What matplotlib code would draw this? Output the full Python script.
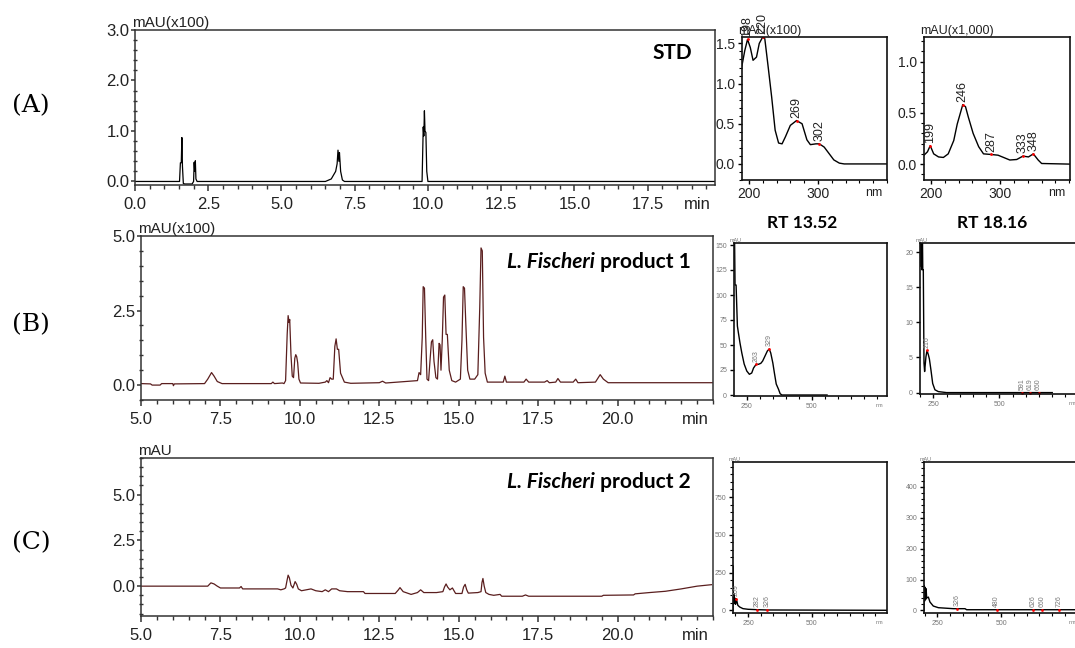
import numpy as np
import matplotlib.pyplot as plt
from matplotlib.ticker import MultipleLocator, FixedLocator, FormatStrFormatter

plt.rcParams["font.family"] = ["Liberation Sans", "DejaVu Sans"]

W, H = 1075, 648

# =====================================================
# Chromatograms : (temps en min, signal)
# =====================================================
std_trace = [(0.0, 0.0), (1.52, 0.0), (1.55, 0.37), (1.58, 0.37), (1.6, 0.87), (1.62, 0.3),
             (1.65, -0.04), (1.7, -0.05), (1.95, -0.05), (2.0, 0.0), (2.02, 0.38), (2.04, 0.2),
             (2.06, 0.41), (2.08, 0.05), (2.12, 0.0), (6.5, 0.0), (6.7, 0.05), (6.85, 0.2),
             (6.9, 0.35), (6.93, 0.62), (6.96, 0.4), (6.98, 0.57), (7.02, 0.2), (7.08, 0.03),
             (7.15, 0.0), (9.8, 0.0), (9.84, 1.08), (9.86, 0.9), (9.88, 1.4), (9.9, 1.0),
             (9.93, 0.97), (9.96, 0.2), (10.0, 0.0), (19.8, 0.0)]

p1_trace = [(5.0, 0.05), (5.3, 0.04), (5.35, 0.0), (5.6, 0.0), (5.65, 0.05), (6.0, 0.05),
            (6.02, -0.02), (6.05, 0.04), (7.0, 0.05), (7.1, 0.2), (7.22, 0.42), (7.3, 0.3),
            (7.4, 0.12), (7.55, 0.05), (9.1, 0.05), (9.15, 0.1), (9.2, 0.05), (9.45, 0.07),
            (9.5, 0.05), (9.55, 0.15), (9.6, 1.7), (9.63, 2.33), (9.66, 2.1), (9.68, 2.2),
            (9.72, 1.0), (9.76, 0.3), (9.8, 0.25), (9.84, 0.9), (9.87, 1.02), (9.9, 0.95),
            (9.93, 0.75), (9.97, 0.2), (10.02, 0.07), (10.6, 0.06), (10.8, 0.1), (10.85, 0.15),
            (10.9, 0.08), (10.95, 0.25), (11.0, 0.2), (11.05, 0.2), (11.1, 1.3), (11.14, 1.55),
            (11.18, 1.2), (11.22, 1.2), (11.28, 0.4), (11.4, 0.1), (11.6, 0.06), (12.5, 0.08),
            (12.6, 0.13), (12.7, 0.07), (13.7, 0.15), (13.75, 0.42), (13.8, 0.35), (13.85, 1.6),
            (13.88, 3.3), (13.92, 3.25), (13.96, 1.6), (14.0, 0.2), (14.05, 0.15), (14.1, 0.9),
            (14.14, 1.45), (14.18, 1.52), (14.22, 0.8), (14.28, 0.25), (14.33, 0.2), (14.38, 1.4),
            (14.41, 1.35), (14.44, 0.5), (14.48, 1.5), (14.52, 2.95), (14.56, 3.02), (14.6, 1.7),
            (14.64, 1.7), (14.7, 0.5), (14.78, 0.15), (14.9, 0.1), (15.05, 0.2), (15.1, 1.5),
            (15.14, 3.3), (15.18, 3.25), (15.22, 2.1), (15.28, 0.5), (15.35, 0.2), (15.5, 0.2),
            (15.6, 0.35), (15.66, 2.6), (15.7, 4.6), (15.74, 4.5), (15.78, 1.6), (15.83, 0.4),
            (15.9, 0.1), (16.4, 0.1), (16.45, 0.3), (16.5, 0.1), (17.05, 0.1), (17.12, 0.2),
            (17.2, 0.1), (17.7, 0.1), (17.78, 0.15), (17.85, 0.08), (18.05, 0.1), (18.12, 0.22),
            (18.2, 0.1), (18.6, 0.1), (18.68, 0.2), (18.75, 0.08), (19.3, 0.1), (19.45, 0.35),
            (19.55, 0.2), (19.7, 0.08), (23.0, 0.08)]

p2_trace = [(5.0, 0.0), (7.1, 0.0), (7.2, 0.18), (7.3, 0.12), (7.4, 0.0), (7.5, -0.1),
            (8.1, -0.1), (8.15, -0.02), (8.2, -0.15), (9.3, -0.15), (9.4, -0.2), (9.5, -0.15),
            (9.55, -0.1), (9.6, 0.35), (9.63, 0.6), (9.67, 0.45), (9.72, 0.05), (9.78, -0.1),
            (9.85, 0.25), (9.9, 0.1), (9.95, -0.15), (10.05, -0.25), (10.2, -0.2), (10.35, -0.15),
            (10.5, -0.25), (10.7, -0.3), (10.8, -0.2), (10.9, -0.3), (11.0, -0.15), (11.15, -0.15),
            (11.25, -0.25), (11.5, -0.3), (12.0, -0.3), (12.05, -0.4), (13.0, -0.4), (13.1, -0.2),
            (13.15, -0.08), (13.25, -0.3), (13.5, -0.45), (13.7, -0.35), (13.8, -0.2), (13.9, -0.35),
            (14.3, -0.35), (14.5, -0.3), (14.55, -0.05), (14.6, 0.12), (14.65, -0.05), (14.72, -0.2),
            (14.8, -0.1), (14.9, -0.4), (15.1, -0.4), (15.15, -0.05), (15.2, 0.1), (15.25, -0.2),
            (15.3, -0.38), (15.6, -0.35), (15.7, -0.3), (15.73, 0.2), (15.76, 0.42), (15.8, 0.0),
            (15.85, -0.35), (15.95, -0.45), (16.1, -0.5), (16.3, -0.45), (16.35, -0.55),
            (17.0, -0.55), (17.1, -0.48), (17.2, -0.55), (19.5, -0.55), (19.55, -0.5),
            (20.5, -0.48), (20.55, -0.42), (21.0, -0.35), (21.5, -0.28), (22.0, -0.15),
            (22.5, 0.0), (22.95, 0.08)]

# =====================================================
# Spectres UV : (nm, absorbance)
# =====================================================
spec_a1 = [(189, 1.18), (194, 1.41), (198, 1.55), (202, 1.45), (206, 1.29), (211, 1.33),
           (215, 1.5), (220, 1.58), (223, 1.56), (228, 1.2), (233, 0.83), (238, 0.42),
           (243, 0.26), (248, 0.25), (253, 0.34), (260, 0.48), (269, 0.54), (277, 0.5),
           (284, 0.3), (289, 0.24), (297, 0.25), (302, 0.25), (309, 0.21), (316, 0.13),
           (323, 0.05), (331, 0.01), (338, 0.0), (401, 0.0)]
spec_a2 = [(190, 0.087), (195, 0.12), (199, 0.18), (204, 0.1), (211, 0.07), (218, 0.065),
           (225, 0.1), (233, 0.23), (238, 0.39), (246, 0.58), (250, 0.56), (254, 0.46),
           (261, 0.3), (269, 0.17), (276, 0.1), (287, 0.094), (297, 0.087), (305, 0.065),
           (314, 0.04), (324, 0.045), (333, 0.078), (341, 0.07), (348, 0.1), (355, 0.04),
           (360, 0.006), (401, 0.0)]
spec_b1 = [(201, 170), (203, 160), (205, 110), (209, 110), (214, 69), (218, 62), (224, 52),
           (231, 42), (240, 31), (250, 24), (260, 20.7), (269, 22), (276, 27), (286, 30.7),
           (295, 30.7), (304, 31.7), (311, 34), (320, 39), (329, 44), (336, 46), (342, 42),
           (350, 32), (356, 22), (363, 11), (372, 5.6), (378, 1.3), (385, 0), (558, 0)]
spec_b2 = [(200, 25), (202, 18), (204, 25), (206, 17.5), (208, 25), (210, 17.5), (212, 17.5),
           (214.6, 4.2), (217, 3.0), (222, 5.1), (226, 6.0), (231, 5.4), (235, 4.8),
           (241, 3.2), (247.5, 1.3), (256, 0.4), (269, 0.14), (300, 0.0), (700, 0.0)]
spec_c1 = [(191, 0), (191.5, 290), (193, 40), (195, 110), (197, 50), (199, 80), (201, 40),
           (204, 77), (210, 33), (217, 22), (230, 11), (250, 6.6), (285, 4), (326, 2), (796, 0)]
spec_c2 = [(197.6, 0), (198, 81), (200, 30), (202, 75), (204, 35), (206, 70), (208, 40),
           (214.7, 43), (221, 27), (234, 14), (254, 8.6), (313, 5.4), (358.6, 5.4),
           (365, 2), (830, 2)]

# pics marqués (position, valeur, texte)
pk_a1 = [(198, 1.55, "198"), (220, 1.58, "220"), (269, 0.54, "269"), (302, 0.25, "302")]
pk_a2 = [(199, 0.18, "199"), (246, 0.58, "246"), (287, 0.094, "287"), (333, 0.078, "333"),
         (348, 0.1, "348")]
pk_b1 = [(286, 30.7, "263"), (336, 46, "329")]
pk_b2 = [(226, 6.0, "216"), (585, 0.0, "591"), (616, 0.0, "619"), (648, 0.0, "660")]
pk_c1 = [(204, 77, "209"), (285, 4, "282"), (326, 2, "326")]
pk_c2 = [(328, 4, "326"), (483, 2, "480"), (627, 2, "626"), (661, 2, "660"), (728, 2, "726")]

panel_letters = ["(A)", "(B)", "(C)"]
sample_names = [("", "STD"), ("L. Fischeri", " product 1"), ("L. Fischeri", " product 2")]
rt_titles = ["RT 13.52", "RT 18.16"]

TRACE_BROWN = "#5a1e1e"
TITLE_FONT = ["Lato", "Liberation Sans"]


def px_rect(left, top, right, bottom):
    return [left / W, 1 - bottom / H, (right - left) / W, (bottom - top) / H]


def style_chrom(ax, xlim, ylim, ymaj, ymin, xmaj_max, ylab):
    ax.set_xlim(*xlim)
    ax.set_ylim(*ylim)
    ax.xaxis.set_major_locator(FixedLocator(np.arange(xlim[0], xmaj_max + 0.01, 2.5)))
    ax.xaxis.set_minor_locator(MultipleLocator(0.5))
    ax.yaxis.set_major_locator(MultipleLocator(ymaj))
    ax.yaxis.set_minor_locator(MultipleLocator(ymin))
    ax.xaxis.set_major_formatter(FormatStrFormatter("%.1f"))
    ax.yaxis.set_major_formatter(FormatStrFormatter("%.1f"))
    for s in ax.spines.values():
        s.set_linewidth(1.1)
        s.set_color("#333333")
    ax.tick_params(axis="x", which="major", direction="out", length=4.5, width=1.1, pad=4,
                   labelsize=12, colors="#333333", labelcolor="#222222")
    ax.tick_params(axis="x", which="minor", direction="out", length=3, width=1.0, colors="#333333")
    ax.tick_params(axis="y", which="major", direction="out", length=3, width=1.1, pad=1,
                   labelsize=12, colors="#333333", labelcolor="#222222")
    ax.tick_params(axis="y", which="minor", direction="inout", length=3.5, width=1.0, colors="#333333")
    ax.annotate(ylab, xy=(0, 1), xycoords="axes fraction", xytext=(-2, 0),
                textcoords="offset points", ha="left", va="bottom", fontsize=11,
                color="#222222")
    ax.annotate("min", xy=(1, 0), xycoords="axes fraction", xytext=(-3, -8.5),
                textcoords="offset points", ha="right", va="top", fontsize=12,
                color="#222222")


def style_spec(ax, xlim, ylim, xticks, yticks, yfmt, fs, col, xminor, yminor, ylab):
    ax.set_xlim(*xlim)
    ax.set_ylim(*ylim)
    ax.set_xticks(xticks)
    ax.set_yticks(yticks)
    ax.xaxis.set_minor_locator(MultipleLocator(xminor))
    ax.yaxis.set_minor_locator(MultipleLocator(yminor))
    ax.yaxis.set_major_formatter(FormatStrFormatter(yfmt))
    for s in ax.spines.values():
        s.set_linewidth(1.2)
        s.set_color("#111111")
    ax.tick_params(which="major", direction="out", length=3, width=1.0, pad=2,
                   labelsize=fs, labelcolor=col)
    ax.tick_params(which="minor", direction="out", length=2, width=0.8)
    ax.annotate(ylab, xy=(0, 1), xycoords="axes fraction", xytext=(-3, 0),
                textcoords="offset points", ha="left", va="bottom", fontsize=fs - 1,
                color=col)
    ax.annotate("nm", xy=(1, 0), xycoords="axes fraction", xytext=(-3, -5),
                textcoords="offset points", ha="right", va="top", fontsize=fs - 1,
                color=col)


def draw_spec(ax, trace, peaks, fs, col):
    x, y = zip(*trace)
    ax.plot(x, y, color="black", lw=1.0)
    px = [p[0] for p in peaks]
    py = [p[1] for p in peaks]
    ax.plot(px, py, "o", color="red", ms=2.0, mec="none")
    for xv, yv, s in peaks:
        ax.annotate(s, xy=(xv, yv), xytext=(0, 2), textcoords="offset points",
                    rotation=90, ha="center", va="bottom", fontsize=fs, color=col)


fig = plt.figure(figsize=(W / 100, H / 100), dpi=100)

# ---------------- chromatogrammes ----------------
ax_a = fig.add_axes(px_rect(135, 30, 715, 185))
t, y = zip(*std_trace)
ax_a.plot(t, y, color="black", lw=0.9)
style_chrom(ax_a, (0, 19.8), (-0.07, 3.0), 1.0, 0.2, 17.5, "mAU(x100)")

ax_b = fig.add_axes(px_rect(141, 236, 713, 400))
t, y = zip(*p1_trace)
ax_b.plot(t, y, color=TRACE_BROWN, lw=0.9)
style_chrom(ax_b, (5, 23.0), (-0.5, 5.0), 2.5, 0.5, 20.0, "mAU(x100)")

ax_c = fig.add_axes(px_rect(141, 458, 713, 616))
t, y = zip(*p2_trace)
ax_c.plot(t, y, color=TRACE_BROWN, lw=0.9)
style_chrom(ax_c, (5, 23.0), (-1.63, 7.0), 2.5, 0.5, 20.0, "mAU")

# noms des échantillons
for ax, (ital, rest), (xr, yb) in zip([ax_a, ax_b, ax_c], sample_names,
                                      [(692, 59), (691, 268), (691, 488)]):
    t_rest = fig.text(xr / W, 1 - yb / H, rest.strip() if not ital else rest,
                      ha="right", va="baseline", fontsize=15, fontweight="bold",
                      family=TITLE_FONT, color="black")
    if ital:
        fig.canvas.draw()
        bb = t_rest.get_window_extent()
        fig.text(bb.x0 / W, 1 - yb / H, ital, ha="right", va="baseline", fontsize=15,
                 fontweight="bold", style="italic", family=TITLE_FONT, color="black")

# lettres des panneaux
for letter, yc in zip(panel_letters, [106, 325, 543]):
    fig.text(31 / W, 1 - yc / H, letter, ha="center", va="center", fontsize=18,
             family="DejaVu Serif", color="black")

# ---------------- spectres ----------------
ax_s1 = fig.add_axes(px_rect(742, 37, 887, 180))
draw_spec(ax_s1, spec_a1, pk_a1, 9, "#222222")
style_spec(ax_s1, (190, 400), (-0.2, 1.58), [200, 300], [0.0, 0.5, 1.0, 1.5], "%.1f",
           10, "#222222", 20, 0.1, "mAU(x100)")

ax_s2 = fig.add_axes(px_rect(924, 37, 1070, 180))
draw_spec(ax_s2, spec_a2, pk_a2, 9, "#222222")
style_spec(ax_s2, (190, 401), (-0.155, 1.24), [200, 300], [0.0, 0.5, 1.0], "%.1f",
           10, "#222222", 20, 0.1, "mAU(x1,000)")

ax_s3 = fig.add_axes(px_rect(734, 243, 887, 396))
draw_spec(ax_s3, spec_b1, pk_b1, 5, "#777777")
style_spec(ax_s3, (201, 788), (-1, 152), [250, 500], [0, 25, 50, 75, 100, 125, 150], "%d",
           5, "#777777", 50, 25, "mAU")

ax_s4 = fig.add_axes(px_rect(920, 243, 1080, 394))
draw_spec(ax_s4, spec_b2, pk_b2, 5, "#777777")
style_spec(ax_s4, (199.5, 805), (-0.2, 21.3), [250, 500], [0, 5, 10, 15, 20], "%d",
           5, "#777777", 50, 5, "mAU")

ax_s5 = fig.add_axes(px_rect(733, 462, 887, 613))
draw_spec(ax_s5, spec_c1, pk_c1, 5, "#777777")
style_spec(ax_s5, (191, 796), (-18, 982), [250, 500], [0, 250, 500, 750], "%d",
           5, "#777777", 50, 50, "mAU")

ax_s6 = fig.add_axes(px_rect(924, 462, 1080, 613))
draw_spec(ax_s6, spec_c2, pk_c2, 5, "#777777")
style_spec(ax_s6, (197.6, 810), (-8.6, 481), [250, 500], [0, 100, 200, 300, 400], "%d",
           5, "#777777", 50, 20, "mAU")

for title, xc in zip(rt_titles, [802, 992]):
    fig.text(xc / W, 1 - 223 / H, title, ha="center", va="center", fontsize=12.5,
             fontweight="bold", family=TITLE_FONT, color="black")

fig.savefig("out.png", dpi=100)
